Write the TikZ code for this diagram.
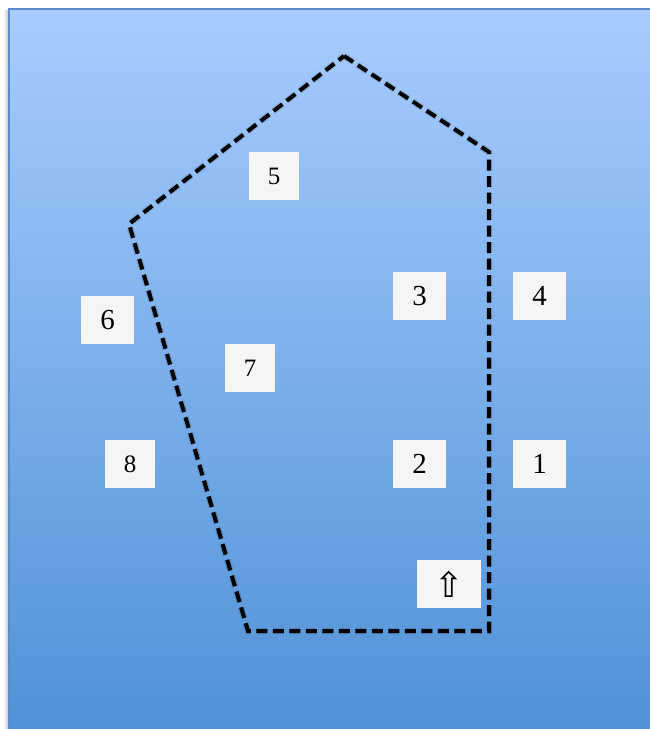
\documentclass[tikz,border=0pt]{standalone}
\usepackage{fontspec}
\setmainfont{Liberation Serif}
\newfontfamily\symf{DejaVu Sans}
\definecolor{bgtop}{RGB}{168,204,255}
\definecolor{bgbot}{RGB}{80,146,214}
\definecolor{edge}{RGB}{90,140,205}
\definecolor{boxfill}{RGB}{245,245,245}
\tikzset{
  lbl/.style={fill=boxfill, inner sep=0pt, minimum height=48pt, minimum width=53pt, font=\fontsize{29}{29}\selectfont},
  lbls/.style={fill=boxfill, inner sep=0pt, minimum height=48pt, minimum width=50pt, font=\fontsize{25}{25}\selectfont},
  fence/.style={line width=4pt, dash pattern=on 11pt off 5.5pt, line join=miter},
  fenceshadow/.style={fence, line width=6.5pt, black, opacity=0.12}
}
\begin{document}
\begin{tikzpicture}[x=1pt,y=-1pt]
\useasboundingbox (0,0) rectangle (650,729);
\shade[left color=white, right color=black!22] (3,10) rectangle (8,729);
\shade[top color=bgtop, bottom color=bgbot] (8,8) rectangle (650,729);
\draw[edge, line width=1.5pt] (8.75,729) -- (8.75,8.75) -- (650,8.75);
\coordinate (p1) at (344,56);
\coordinate (p2) at (489,152);
\coordinate (p3) at (489,631);
\coordinate (p4) at (248,631);
\coordinate (p5) at (129,224);
\begin{scope}[shift={(1.2,1.5)}]
\draw[fenceshadow] (p1) -- (p2) -- (p3) -- (p4) -- (p5) -- cycle;
\end{scope}
\draw[fence] (p1) -- (p2) -- (p3) -- (p4) -- (p5) -- cycle;
\node[lbls] (n5) at (274,176) {5};
\node[lbl] (n6) at (107.5,320) {6};
\node[lbl] (n3) at (419.5,296) {3};
\node[lbl] (n4) at (539.5,296) {4};
\node[lbls] (n7) at (250,368) {7};
\node[lbls] (n8) at (130,464) {8};
\node[lbl] (n2) at (419.5,464) {2};
\node[lbl] (n1) at (539.5,464) {1};
\node[lbl, minimum width=64pt, font=\symf\fontsize{35}{35}\selectfont] (up) at (449,584) {⇧};
\end{tikzpicture}
\end{document}
